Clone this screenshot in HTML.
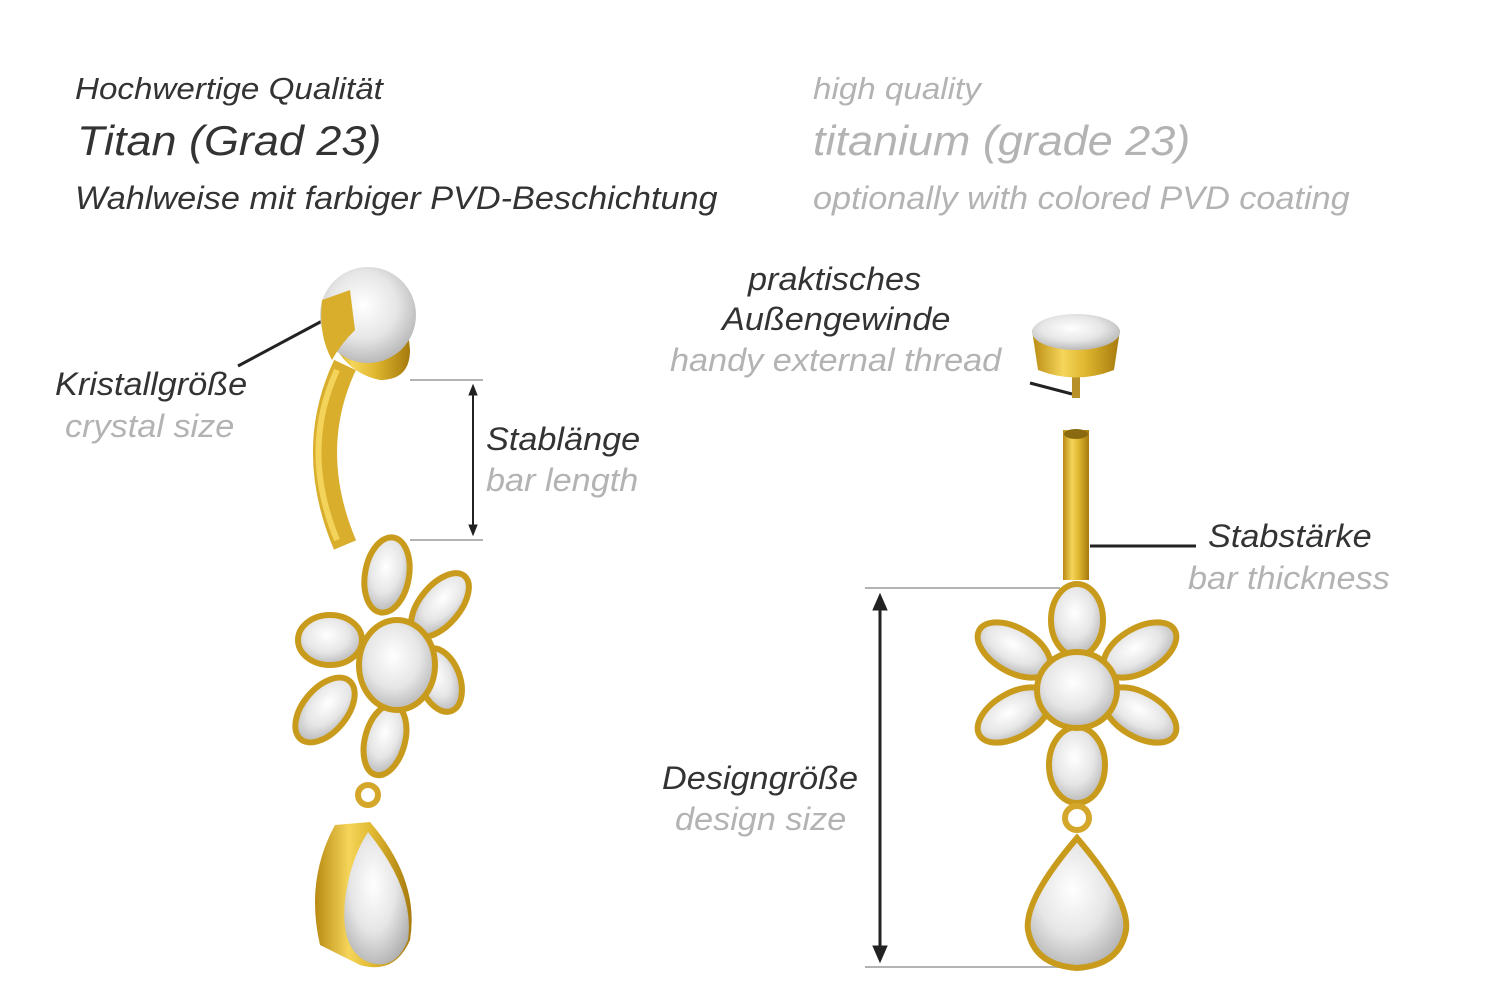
<!DOCTYPE html>
<html><head><meta charset="utf-8"><style>
html,body{margin:0;padding:0;background:#fff;}
body{width:1500px;height:1001px;position:relative;overflow:hidden;font-family:"Liberation Sans",sans-serif;font-style:italic;}
.t{position:absolute;white-space:nowrap;line-height:1;transform:scaleX(1.07);transform-origin:left top;}
.d{color:#333;}
.g{color:#b3b3b3;}
svg{position:absolute;left:0;top:0;}
</style></head><body>
<svg width="1500" height="1001" viewBox="0 0 1500 1001">
<defs>
<linearGradient id="gold" x1="0" x2="1">
<stop offset="0" stop-color="#b98a12"/><stop offset="0.35" stop-color="#f5d55a"/><stop offset="0.6" stop-color="#e0b730"/><stop offset="1" stop-color="#a67a0c"/></linearGradient>
<radialGradient id="gem" cx="0.45" cy="0.4" r="0.7">
<stop offset="0" stop-color="#ffffff"/><stop offset="0.5" stop-color="#e6e6e6"/><stop offset="1" stop-color="#a8a8a8"/></radialGradient>
</defs>
<g stroke="#b3b3b3" stroke-width="2">
<line x1="410" y1="380" x2="483" y2="380"/><line x1="410" y1="540" x2="483" y2="540"/>
<line x1="865" y1="588" x2="1060" y2="588"/><line x1="865" y1="967" x2="1060" y2="967"/>
</g>
<g stroke="#222" fill="#222">
<line x1="473" y1="392" x2="473" y2="528" stroke-width="2"/>
<polygon points="473,385 469,395 477,395"/><polygon points="473,535 469,525 477,525"/>
<line x1="880" y1="608" x2="880" y2="948" stroke-width="3"/>
<polygon points="880,594 873,610 887,610"/><polygon points="880,962 873,946 887,946"/>
<line x1="238" y1="366" x2="324" y2="320" stroke-width="3"/>
<line x1="1030" y1="383" x2="1072" y2="394" stroke-width="3"/>
<line x1="1090" y1="546" x2="1196" y2="546" stroke-width="3"/>
</g>
<path d="M345 365 Q305 450 345 545" stroke="#d9ae2c" stroke-width="24" fill="none"/>
<path d="M337 370 Q300 450 337 540" stroke="#f3d35a" stroke-width="6" fill="none"/>
<path d="M322 300 Q330 370 380 380 Q410 380 410 350 L405 300 Z" fill="url(#gold)"/>
<circle cx="368" cy="315" r="48" fill="url(#gem)"/>
<path d="M322 300 L350 290 L355 330 Q340 345 332 360 Q318 335 322 300Z" fill="#d9ae2c"/>
<g transform="translate(375,660)">
<g fill="url(#gem)" stroke="#c99b1d" stroke-width="6">
<ellipse cx="12" cy="-85" rx="22" ry="38" transform="rotate(10 12 -85)"/>
<ellipse cx="65" cy="-55" rx="20" ry="38" transform="rotate(40 65 -55)"/>
<ellipse cx="65" cy="20" rx="20" ry="33" transform="rotate(-20 65 20)"/>
<ellipse cx="10" cy="80" rx="20" ry="36" transform="rotate(15 10 80)"/>
<ellipse cx="-50" cy="50" rx="22" ry="38" transform="rotate(40 -50 50)"/>
<ellipse cx="-45" cy="-20" rx="32" ry="25"/>
<ellipse cx="22" cy="5" rx="38" ry="45"/>
</g></g>
<circle cx="368" cy="795" r="10" fill="none" stroke="#d4a62a" stroke-width="6"/>
<path d="M335 825 L370 822 Q420 880 410 940 Q395 975 360 965 L320 945 Q305 880 335 825Z" fill="url(#gold)"/>
<path d="M368 832 Q415 890 408 940 Q395 972 368 962 Q340 950 345 900 Q350 860 368 832Z" fill="url(#gem)"/>
<rect x="1063" y="430" width="26" height="150" fill="url(#gold)"/>
<ellipse cx="1076" cy="434" rx="12" ry="5" fill="#8a6a10"/>
<rect x="1072" y="368" width="8" height="30" fill="#b8902a"/>
<path d="M1032 330 L1120 330 L1114 370 Q1076 385 1038 370Z" fill="url(#gold)"/>
<ellipse cx="1076" cy="332" rx="44" ry="18" fill="url(#gem)"/>
<g transform="translate(1077,690)">
<g fill="url(#gem)" stroke="#c99b1d" stroke-width="6">
<ellipse cx="0" cy="-70" rx="26" ry="36"/>
<ellipse cx="63" cy="-40" rx="40" ry="22" transform="rotate(-30 63 -40)"/>
<ellipse cx="-63" cy="-40" rx="40" ry="22" transform="rotate(30 -63 -40)"/>
<ellipse cx="63" cy="25" rx="40" ry="22" transform="rotate(30 63 25)"/>
<ellipse cx="-63" cy="25" rx="40" ry="22" transform="rotate(-30 -63 25)"/>
<ellipse cx="0" cy="75" rx="28" ry="38"/>
<ellipse cx="0" cy="0" rx="40" ry="38"/>
</g></g>
<circle cx="1077" cy="818" r="12" fill="none" stroke="#d4a62a" stroke-width="6"/>
<path d="M1077 838 Q1130 900 1126 930 Q1120 965 1077 968 Q1034 965 1028 930 Q1024 900 1077 838Z" fill="url(#gem)" stroke="#c99b1d" stroke-width="6"/>
</svg>
<div class="t d" style="left:75px;top:73px;font-size:31px">Hochwertige Qualität</div>
<div class="t d" style="left:77px;top:120px;font-size:42px">Titan (Grad 23)</div>
<div class="t d" style="left:75px;top:182px;font-size:32px">Wahlweise mit farbiger PVD-Beschichtung</div>
<div class="t g" style="left:813px;top:73px;font-size:31px">high quality</div>
<div class="t g" style="left:813px;top:120px;font-size:42px">titanium (grade 23)</div>
<div class="t g" style="left:813px;top:182px;font-size:32px">optionally with colored PVD coating</div>
<div class="t d" style="left:55px;top:368px;font-size:32px">Kristallgröße</div>
<div class="t g" style="left:65px;top:410px;font-size:32px">crystal size</div>
<div class="t d" style="left:486px;top:423px;font-size:32px">Stablänge</div>
<div class="t g" style="left:486px;top:464px;font-size:32px">bar length</div>
<div class="t d" style="left:748px;top:263px;font-size:32px">praktisches</div>
<div class="t d" style="left:722px;top:303px;font-size:32px">Außengewinde</div>
<div class="t g" style="left:670px;top:344px;font-size:32px">handy external thread</div>
<div class="t d" style="left:1208px;top:520px;font-size:32px">Stabstärke</div>
<div class="t g" style="left:1188px;top:562px;font-size:32px">bar thickness</div>
<div class="t d" style="left:662px;top:762px;font-size:32px">Designgröße</div>
<div class="t g" style="left:675px;top:803px;font-size:32px">design size</div>
</body></html>
